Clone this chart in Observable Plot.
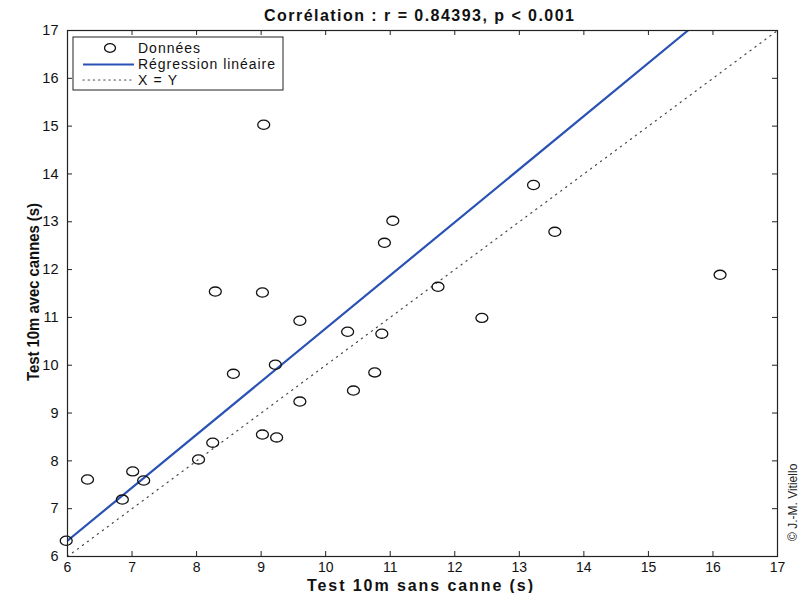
<!DOCTYPE html>
<html>
<head>
<meta charset="utf-8">
<script src="https://cdn.jsdelivr.net/npm/d3@7"></script>
<script src="https://cdn.jsdelivr.net/npm/@observablehq/plot@0.6"></script>
<style>
  html, body { margin: 0; padding: 0; background: #fff; }
  #chart svg { display: block; }
</style>
</head>
<body>
<div id="chart"></div>
<script>
// Data
const sansCanne = [5.98, 6.31, 6.85, 7.01, 7.18, 8.03, 8.25, 8.57, 9.02, 9.24, 9.22, 9.60, 9.60, 10.34, 10.43, 9.04, 8.29, 9.02, 11.04, 10.91, 11.74, 10.87, 12.42, 10.76, 13.22, 13.55, 16.11];
const avecCannes = [6.33, 7.61, 7.19, 7.78, 7.59, 8.03, 8.38, 9.82, 8.55, 8.49, 10.01, 9.24, 10.93, 10.70, 9.47, 15.03, 11.54, 11.52, 13.02, 12.56, 11.64, 10.66, 10.99, 9.85, 13.77, 12.79, 11.89];
const regSlope = 1.11;
const regIntercept = -0.33;
const xTicks = [6, 7, 8, 9, 10, 11, 12, 13, 14, 15, 16, 17];
const yTicks = [6, 7, 8, 9, 10, 11, 12, 13, 14, 15, 16, 17];
const domain = [6, 17];
const titleText = "Corrélation : r = 0.84393, p < 0.001";
const xLabel = "Test 10m sans canne (s)";
const yLabel = "Test 10m avec cannes (s)";
const legendLabels = ["Données", "Régression linéaire", "X = Y"];
const credit = "© J.-M. Vitiello";

const W = 803, H = 593;
const mL = 67, mR = 26, mT = 30, mB = 37;
const pw = W - mL - mR, ph = H - mT - mB;
const tickPx = 5;
const tx = tickPx / (pw / (domain[1] - domain[0]));
const ty = tickPx / (ph / (domain[1] - domain[0]));

const points = sansCanne.map((x, i) => ({x, y: avecCannes[i]}));
const regX = [domain[0], (domain[1] - regIntercept) / regSlope];
const regLine = regX.map(x => ({x, y: regSlope * x + regIntercept}));
const idLine = domain.map(v => ({x: v, y: v}));

const font = "Liberation Sans, Arial, Helvetica, sans-serif";
const blue = "#2a52b4";

// slightly wide ellipse marker (MATLAB-like "o")
const ellipse = {
  draw(ctx, size) {
    const r = Math.sqrt(size / Math.PI);
    const rx = r * 1.15, ry = r * 0.88, k = 0.5523;
    ctx.moveTo(rx, 0);
    ctx.bezierCurveTo(rx, ry * k, rx * k, ry, 0, ry);
    ctx.bezierCurveTo(-rx * k, ry, -rx, ry * k, -rx, 0);
    ctx.bezierCurveTo(-rx, -ry * k, -rx * k, -ry, 0, -ry);
    ctx.bezierCurveTo(rx * k, -ry, rx, -ry * k, rx, 0);
    ctx.closePath();
  }
};

const chart = Plot.plot({
  width: W, height: H,
  marginLeft: mL, marginRight: mR, marginTop: mT, marginBottom: mB,
  style: {fontFamily: font, fontSize: "13px", color: "#111", background: "#fff"},
  x: {domain, ticks: xTicks, label: null},
  y: {domain, ticks: yTicks, label: null},
  marks: [
    Plot.line(idLine, {x: "x", y: "y", stroke: "#444", strokeWidth: 1.2, strokeDasharray: "1.2,5", strokeLinecap: "round"}),
    Plot.line(regLine, {x: "x", y: "y", stroke: blue, strokeWidth: 2.2, clip: true}),
    Plot.dot(points, {x: "x", y: "y", r: 5.2, symbol: ellipse, stroke: "#111", strokeWidth: 1.3, fill: "none"}),
    // inward ticks on all four sides
    Plot.ruleX(xTicks, {x: d => d, y1: domain[0], y2: domain[0] + ty, stroke: "#222"}),
    Plot.ruleX(xTicks, {x: d => d, y1: domain[1], y2: domain[1] - ty, stroke: "#222"}),
    Plot.ruleY(yTicks, {y: d => d, x1: domain[0], x2: domain[0] + tx, stroke: "#222"}),
    Plot.ruleY(yTicks, {y: d => d, x1: domain[1], x2: domain[1] - tx, stroke: "#222"}),
    Plot.axisX(xTicks, {anchor: "bottom", tickSize: 0, tickPadding: 6, fontSize: 14, label: null}),
    Plot.axisY(yTicks, {anchor: "left", tickSize: 0, tickPadding: 9, fontSize: 14.5, label: null}),
    Plot.frame({stroke: "#222", strokeWidth: 1.2})
  ]
});

const svg = d3.select(chart);

// Title
svg.append("text").attr("x", 419).attr("y", 21)
  .attr("text-anchor", "middle").attr("font-family", font)
  .attr("font-size", 16).attr("font-weight", "bold").attr("fill", "#111")
  .attr("textLength", 310).attr("lengthAdjust", "spacing").text(titleText);
// X label
svg.append("text").attr("x", 420).attr("y", 591)
  .attr("text-anchor", "middle").attr("font-family", font)
  .attr("font-size", 16).attr("font-weight", "bold").attr("fill", "#111")
  .attr("textLength", 226).attr("lengthAdjust", "spacing").text(xLabel);
// Y label
svg.append("text").attr("transform", `translate(39,292) rotate(-90)`)
  .attr("text-anchor", "middle").attr("font-family", font)
  .attr("font-size", 16).attr("font-weight", "bold").attr("fill", "#111")
  .attr("textLength", 178).attr("lengthAdjust", "spacingAndGlyphs").text(yLabel);
// Credit
svg.append("text").attr("transform", `translate(797,541) rotate(-90)`)
  .attr("text-anchor", "start").attr("font-family", font)
  .attr("font-size", 12).attr("fill", "#222").text(credit);

// Legend
const lg = svg.append("g");
lg.append("rect").attr("x", 73).attr("y", 37).attr("width", 210).attr("height", 53)
  .attr("fill", "#fff").attr("stroke", "#222").attr("stroke-width", 1);
lg.append("ellipse").attr("cx", 110).attr("cy", 48).attr("rx", 5.5).attr("ry", 4.3)
  .attr("fill", "none").attr("stroke", "#111").attr("stroke-width", 1.3);
lg.append("line").attr("x1", 83).attr("x2", 134).attr("y1", 64.5).attr("y2", 64.5)
  .attr("stroke", blue).attr("stroke-width", 2);
lg.append("line").attr("x1", 83).attr("x2", 134).attr("y1", 80).attr("y2", 80)
  .attr("stroke", "#444").attr("stroke-width", 1.2).attr("stroke-dasharray", "1.2,4").attr("stroke-linecap", "round");
const legendLens = [62, 137, 39];
legendLabels.forEach((t, i) => {
  lg.append("text").attr("x", 138).attr("y", [48, 64.5, 80][i]).attr("dy", "0.35em")
    .attr("text-anchor", "start")
    .attr("font-family", font).attr("font-size", 14).attr("fill", "#111")
    .attr("textLength", legendLens[i]).attr("lengthAdjust", "spacing").text(t);
});

document.getElementById("chart").appendChild(chart);
</script>
</body>
</html>
